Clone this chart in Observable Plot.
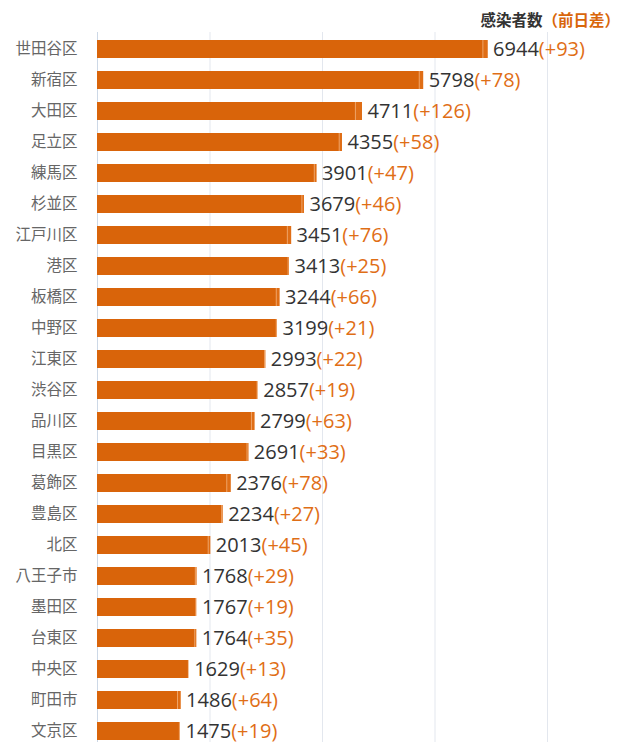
<!DOCTYPE html>
<html>
<head>
<meta charset="utf-8">
<script src="https://cdn.jsdelivr.net/npm/d3@7"></script>
<script src="https://cdn.jsdelivr.net/npm/@observablehq/plot@0.6"></script>
<style>
  html, body { margin: 0; padding: 0; background: #fff; overflow: hidden; }
  #wrap { position: relative; width: 626px; height: 742px; overflow: hidden; }
  #header { position: absolute; top: 8px; right: 6px; font-family: "Noto Sans CJK JP", sans-serif; font-weight: bold; font-size: 15.5px; color: #333; white-space: nowrap; }
  #header span { color: #d9660a; }
</style>
</head>
<body>
<div id="wrap">
  <div id="header">感染者数<span>（前日差）</span></div>
  <div id="chart"></div>
</div>
<script>
const wards = ["世田谷区","新宿区","大田区","足立区","練馬区","杉並区","江戸川区","港区","板橋区","中野区","江東区","渋谷区","品川区","目黒区","葛飾区","豊島区","北区","八王子市","墨田区","台東区","中央区","町田市","文京区"];
const totals = [6944,5798,4711,4355,3901,3679,3451,3413,3244,3199,2993,2857,2799,2691,2376,2234,2013,1768,1767,1764,1629,1486,1475];
const diffs = [93,78,126,58,47,46,76,25,66,21,22,19,63,33,78,27,45,29,19,35,13,64,19];
const gridTicks = [2000,4000,6000,8000];

const data = wards.map((w, i) => ({ward: w, total: totals[i], diff: diffs[i], base: totals[i] - diffs[i]}));

const svg = Plot.plot({
  width: 626,
  height: 742,
  marginTop: 32,
  marginBottom: -5,
  marginLeft: 97,
  marginRight: 79,
  style: { color: "#666", fontSize: "15.5px", fontFamily: '"Noto Sans CJK JP", sans-serif', background: "transparent", overflow: "visible" },
  x: { domain: [0, 8000], axis: null },
  y: { domain: wards, paddingInner: 0.42, paddingOuter: 0.21, tickSize: 0, tickPadding: 20, label: null },
  marks: [
    Plot.ruleX(gridTicks, { stroke: "#e3e7ee", strokeWidth: 1 }),
    Plot.ruleX([0], { stroke: "#cdd8e6", strokeWidth: 1 }),
    Plot.barX(data, { y: "ward", x1: 0, x2: "total", fill: "#efa468" }),
    Plot.barX(data, { y: "ward", x1: 0, x2: "base", fill: "#d9640a" }),
    Plot.barX(data, { y: "ward", x1: "base", x2: "total", insetLeft: 1, fill: "#df6e16" }),
    Plot.text(data, {
      y: "ward", x: "total", text: d => String(d.total), dx: 5, textAnchor: "start",
      fill: "#333", fontSize: 20, fontFamily: '"Open Sans", sans-serif'
    })
  ]
});

document.getElementById("chart").appendChild(svg);

// append the day-over-day difference, in orange, to each total label
const totalStrings = totals.map(String);
d3.select(svg).selectAll("text").each(function() {
  const k = totalStrings.indexOf(this.textContent);
  if (k >= 0) {
    d3.select(this).append("tspan").attr("fill", "#df6e16").text("(+" + diffs[k] + ")");
  }
});
</script>
</body>
</html>
